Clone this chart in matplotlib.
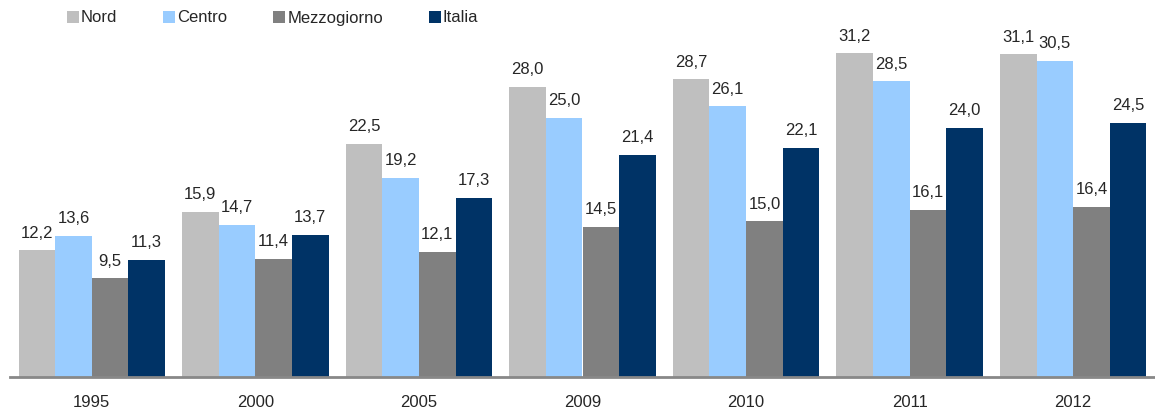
import numpy as np
import matplotlib.pyplot as plt

plt.rcParams['font.family'] = ['Liberation Sans', 'DejaVu Sans']

years = ['1995', '2000', '2005', '2009', '2010', '2011', '2012']
nord = [12.2, 15.9, 22.5, 28.0, 28.7, 31.2, 31.1]
centro = [13.6, 14.7, 19.2, 25.0, 26.1, 28.5, 30.5]
mezzogiorno = [9.5, 11.4, 12.1, 14.5, 15.0, 16.1, 16.4]
italia = [11.3, 13.7, 17.3, 21.4, 22.1, 24.0, 24.5]

series = [('Nord', nord, '#BFBFBF'),
          ('Centro', centro, '#99CCFF'),
          ('Mezzogiorno', mezzogiorno, '#808080'),
          ('Italia', italia, '#003366')]

fig = plt.figure(figsize=(11.55, 4.17), dpi=100)
ax = fig.add_axes([10 / 1155, 40 / 417, 1145 / 1155, 363 / 417])

x = np.arange(len(years))
w = 0.224
for i, (name, vals, col) in enumerate(series):
    bars = ax.bar(x + (i - 1.5) * w, vals, w, color=col, label=name, linewidth=0)
    for b, v in zip(bars, vals):
        ax.annotate(f'{v:.1f}'.replace('.', ','), (b.get_x() + b.get_width() / 2, v),
                    xytext=(0, 7), textcoords='offset points', ha='center', va='bottom',
                    fontsize=12, color='#262626')

ax.set_xlim(-0.5, len(years) - 0.5)
ax.set_ylim(0, 35)
ax.set_xticks(x)
ax.set_xticklabels(years, fontsize=12, color='#262626')
ax.tick_params(axis='x', length=0, pad=13)
ax.set_yticks([])
for s in ['top', 'right', 'left']:
    ax.spines[s].set_visible(False)
ax.spines['bottom'].set_color('#888888')
ax.spines['bottom'].set_linewidth(2)

leg = fig.legend(loc='center left', bbox_to_anchor=(67 / 1155, 1 - 18 / 417), ncol=4, frameon=False,
                 fontsize=12, handlelength=0.72, handleheight=0.72, handletextpad=0.12,
                 columnspacing=2.75, borderaxespad=0, borderpad=0)
for t in leg.get_texts():
    t.set_color('#262626')

fig.savefig('out.png', dpi=100)
